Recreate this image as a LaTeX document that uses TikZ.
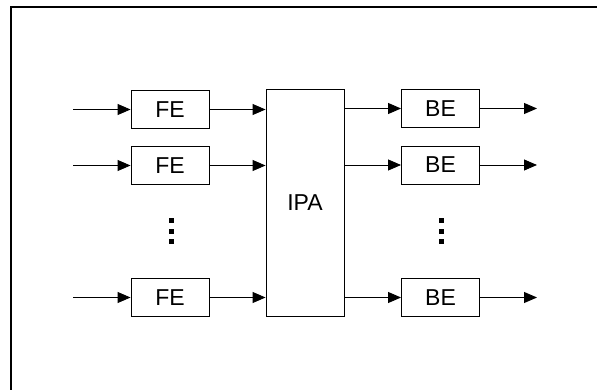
\documentclass[tikz,border=0pt]{standalone}
\usepackage{fontspec}
\setmainfont{Liberation Sans}
\usetikzlibrary{arrows.meta}

\begin{document}
\begin{tikzpicture}[
  x=1pt, y=-1pt,
  font=\fontsize{23}{27}\selectfont,
  >={Triangle[length=13pt, width=11pt]},
  blk/.style={draw, line width=0.9pt, minimum width=78pt, minimum height=38pt, inner sep=0pt},
  ipa/.style={draw, line width=0.9pt, minimum width=78pt, minimum height=227pt, inner sep=0pt},
  sig/.style={->, line width=0.9pt},
]
\useasboundingbox (0,0) rectangle (597,390);

% ---- frame (cut off at right and bottom) ----
\draw[line width=2pt] (597,7) -| (11,390);

% ---- centre: the IPA ----
\node[ipa] (IPA) at (305,202.5) {IPA};

% ---- front ends (left) ----
\node[blk] (FE1) at (170,109.5) {FE};
\node[blk] (FE2) at (170,165.5) {FE};
\node[blk] (FE3) at (170,297.5) {FE};

% ---- back ends (right) ----
\node[blk] (BE1) at (440.5,108.5) {BE};
\node[blk] (BE2) at (440.5,165) {BE};
\node[blk] (BE3) at (440.5,297.5) {BE};

% ---- free ends of the signals ----
\coordinate (in1) at (73,109.5);
\coordinate (in2) at (73,165.5);
\coordinate (in3) at (73,297.5);
\coordinate (out1) at (537,108.5);
\coordinate (out2) at (537,165);
\coordinate (out3) at (537,297.5);

% ---- arrows ----
\draw[sig] (in1) -- (FE1.west);
\draw[sig] (in2) -- (FE2.west);
\draw[sig] (in3) -- (FE3.west);
\draw[sig] (FE1.east) -- (FE1.east -| IPA.west);
\draw[sig] (FE2.east) -- (FE2.east -| IPA.west);
\draw[sig] (FE3.east) -- (FE3.east -| IPA.west);
\draw[sig] (BE1.west -| IPA.east) -- (BE1.west);
\draw[sig] (BE2.west -| IPA.east) -- (BE2.west);
\draw[sig] (BE3.west -| IPA.east) -- (BE3.west);
\draw[sig] (BE1.east) -- (out1);
\draw[sig] (BE2.east) -- (out2);
\draw[sig] (BE3.east) -- (out3);

% ---- vertical dots ----
\foreach \y in {220.5,231.5,242} {
  \fill (168.5,\y-2.5) rectangle ++(5.5,5);
  \fill (438.5,\y-2.5) rectangle ++(5.5,5);
}

\end{tikzpicture}
\end{document}
